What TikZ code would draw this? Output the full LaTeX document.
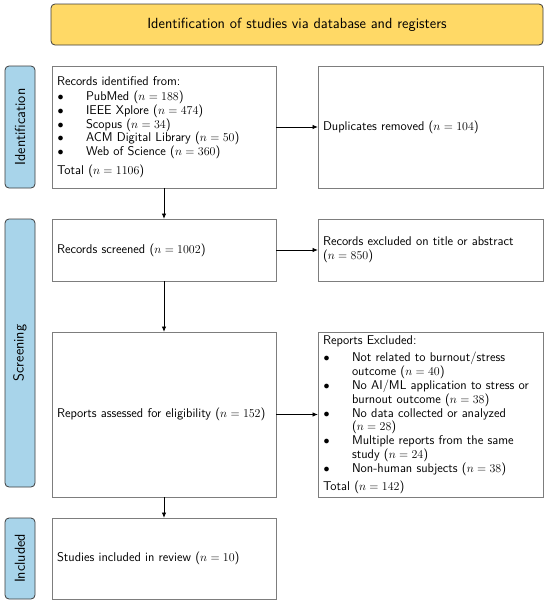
\documentclass[tikz,border=0pt]{standalone}
\usepackage{fontspec}
\usetikzlibrary{arrows.meta}
\definecolor{ylw}{RGB}{255,217,102}
\definecolor{lblue}{RGB}{168,212,234}
\definecolor{bord}{RGB}{125,125,125}
\definecolor{dbord}{RGB}{60,60,60}
\newcommand{\itm}{\makebox[29pt][l]{\hspace{0.5pt}$\bullet$}}
\newcommand{\cnt}{\hspace*{29pt}}
\begin{document}
\begin{tikzpicture}[x=1pt,y=-1pt,
  font=\sffamily\fontsize{12.7}{13.8}\selectfont,
  box/.style={draw=bord, line width=0.9pt, fill=white, inner xsep=5pt, inner ysep=0pt,
    outer sep=0pt, align=left, minimum height=#1},
  lw/.style={text width=214pt},
  rw/.style={text width=215pt},
  side/.style={draw=dbord, line width=0.8pt, fill=lblue, rounded corners=4pt, rotate=90,
    minimum height=30pt, inner sep=0pt, outer sep=0pt, font=\sffamily\fontsize{14.5}{16}\selectfont, minimum width=#1},
  arr/.style={-{Latex[length=5.5pt,width=4.5pt]}, line width=0.9pt, black}
]
\useasboundingbox (0,0) rectangle (550,603);
\node[draw=dbord, line width=0.8pt, fill=ylw, rounded corners=4pt, minimum width=492pt,
  minimum height=41pt, inner sep=0pt, font=\sffamily\fontsize{14.7}{17}\selectfont] (title) at (297,24.5)
  {Identification of studies via database and registers};

\node[side=122pt] (lid) at (20,127) {Identification};
\node[side=268pt] (lsc) at (20,353) {Screening};
\node[side=81pt] (lin) at (20,558.5) {Included};

\node[box=122pt, lw] (id) at (164,127) {Records identified from:\\[1.5pt]
\itm PubMed ($n=188$)\\
\itm IEEE Xplore ($n=474$)\\
\itm Scopus ($n=34$)\\
\itm ACM Digital Library ($n=50$)\\
\itm Web of Science ($n=360$)\\[5pt]
Total ($n=1106$)};
\node[box=122pt, rw] (dup) at (430.5,127) {Duplicates removed ($n=104$)};

\node[box=62pt, lw] (scr) at (164,250) {Records screened ($n=1002$)};
\node[box=62pt, rw] (ex1) at (430.5,250) {Records excluded on title or abstract\\($n=850$)};

\node[box=165pt, lw] (ass) at (164,414.5) {Reports assessed for eligibility ($n=152$)};
\node[box=165pt, rw] (ex2) at (430.5,414.5) {Reports Excluded:\\[3.5pt]
\itm Not related to burnout/stress\\
\cnt outcome ($n=40$)\\
\itm No AI/ML application to stress or\\
\cnt burnout outcome ($n=38$)\\
\itm No data collected or analyzed\\
\cnt ($n=28$)\\
\itm Multiple reports from the same\\
\cnt study ($n=24$)\\
\itm Non-human subjects ($n=38$)\\[4pt]
Total ($n=142$)};

\node[box=81pt, lw] (inc) at (164,558.5) {Studies included in review ($n=10$)};

\draw[arr] (id) -- (dup);
\draw[arr] (id.south) -- (scr.north);
\draw[arr] (scr) -- (ex1);
\draw[arr] (scr.south) -- (ass.north);
\draw[arr] (ass) -- (ex2);
\draw[arr] (ass.south) -- (inc.north);
\end{tikzpicture}
\end{document}
